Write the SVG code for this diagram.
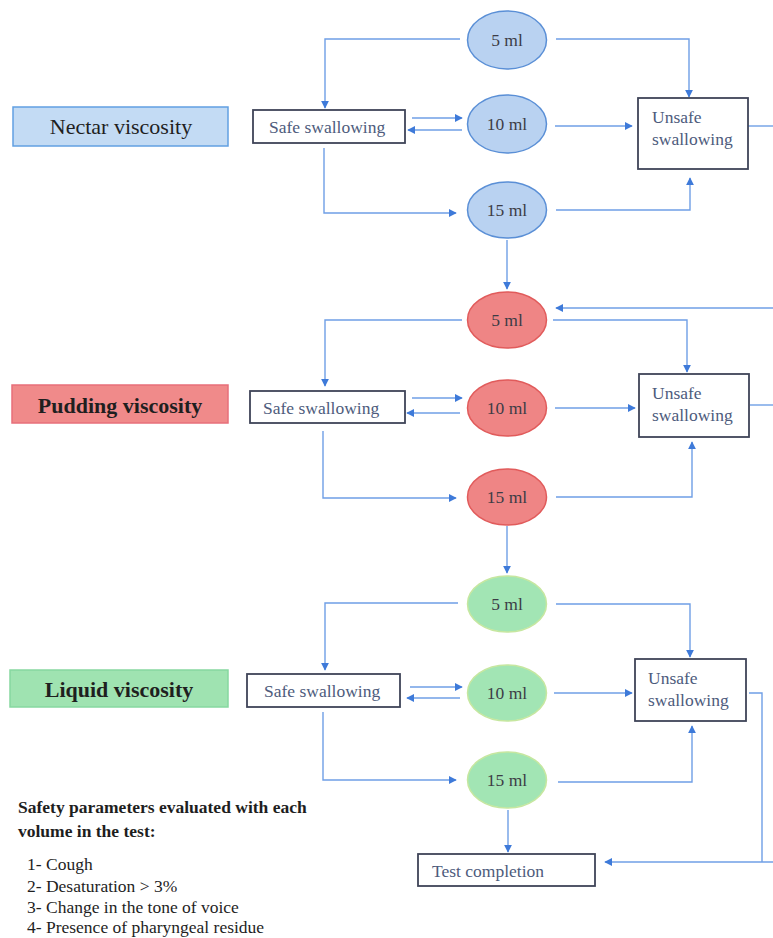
<svg xmlns="http://www.w3.org/2000/svg" width="773" height="938" viewBox="0 0 773 938">
<style>
.conn{fill:none;stroke:#6f9fe6;stroke-width:1.4}
.box{fill:#fff;stroke:#3f4458;stroke-width:1.8}
.t{font-family:"Liberation Serif","Times New Roman",serif}
.lbl{font-size:22px;fill:#1f1f1f;text-anchor:middle}
.safe{font-size:17.5px;fill:#4d5b7c}
.ml{font-size:17.5px;fill:#3c3c46;text-anchor:middle}
.e-blue{fill:#b9d2f1;stroke:#5a8fd6;stroke-width:1.5}
.e-red{fill:#ef8585;stroke:#e15b5b;stroke-width:1.5}
.e-green{fill:#a2e5b4;stroke:#c6e7a0;stroke-width:1.5}
.note{font-size:17.5px;fill:#1e1e1e}
</style>
<defs>
<marker id="ah" viewBox="0 0 10 10" refX="9" refY="5" markerWidth="8" markerHeight="8" markerUnits="userSpaceOnUse" orient="auto">
<path d="M0,0 L10,5 L0,10 z" fill="#3e7ad9"/>
</marker>
</defs>
<rect width="773" height="938" fill="#fff"/>

<g id="connectors">
<!-- Nectar -->
<path class="conn" d="M460,39 H325 V108" marker-end="url(#ah)"/>
<path class="conn" d="M556,39 H689 V97" marker-end="url(#ah)"/>
<path class="conn" d="M412,118 H462" marker-end="url(#ah)"/>
<path class="conn" d="M462,130 H408" marker-end="url(#ah)"/>
<path class="conn" d="M555,126 H632" marker-end="url(#ah)"/>
<path class="conn" d="M324,148 V213 H456" marker-end="url(#ah)"/>
<path class="conn" d="M556,210 H690 V178" marker-end="url(#ah)"/>
<path class="conn" d="M748,126 H773"/>
<path class="conn" d="M507,240 V289" marker-end="url(#ah)"/>
<!-- Pudding -->
<path class="conn" d="M773,308 H556" marker-end="url(#ah)"/>
<path class="conn" d="M462,320 H325 V386" marker-end="url(#ah)"/>
<path class="conn" d="M553,320 H687 V372" marker-end="url(#ah)"/>
<path class="conn" d="M412,398 H462" marker-end="url(#ah)"/>
<path class="conn" d="M460,413 H407" marker-end="url(#ah)"/>
<path class="conn" d="M555,408 H635" marker-end="url(#ah)"/>
<path class="conn" d="M323,431 V498 H456" marker-end="url(#ah)"/>
<path class="conn" d="M556,497 H692 V442" marker-end="url(#ah)"/>
<path class="conn" d="M750,405 H773"/>
<path class="conn" d="M507,526 V573" marker-end="url(#ah)"/>
<!-- Liquid -->
<path class="conn" d="M458,603 H325 V670" marker-end="url(#ah)"/>
<path class="conn" d="M556,604 H690 V657" marker-end="url(#ah)"/>
<path class="conn" d="M410,687 H462" marker-end="url(#ah)"/>
<path class="conn" d="M460,698 H407" marker-end="url(#ah)"/>
<path class="conn" d="M554,693 H632" marker-end="url(#ah)"/>
<path class="conn" d="M323,712 V780 H456" marker-end="url(#ah)"/>
<path class="conn" d="M558,782 H692 V726" marker-end="url(#ah)"/>
<path class="conn" d="M508,810 V852" marker-end="url(#ah)"/>
<path class="conn" d="M749,693 H762 V862"/>
<path class="conn" d="M773,862 H605" marker-end="url(#ah)"/>
</g>

<!-- Nectar row -->
<g id="nectar-label">
<rect x="13" y="107" width="215" height="39" fill="#c3dbf4" stroke="#62a0e2" stroke-width="1.5"/>
<text class="t lbl" x="121" y="134">Nectar viscosity</text>
</g>
<g id="nectar-safe">
<rect class="box" x="253" y="110" width="152" height="33"/>
<text class="t safe" x="269" y="133">Safe swallowing</text>
</g>
<g id="nectar-5">
<ellipse class="e-blue" cx="507" cy="40" rx="39.5" ry="29"/>
<text class="t ml" x="507" y="46">5 ml</text>
</g>
<g id="nectar-10">
<ellipse class="e-blue" cx="507" cy="124" rx="39.5" ry="29"/>
<text class="t ml" x="507" y="130">10 ml</text>
</g>
<g id="nectar-15">
<ellipse class="e-blue" cx="507" cy="210" rx="39.5" ry="28"/>
<text class="t ml" x="507" y="216">15 ml</text>
</g>
<g id="nectar-unsafe">
<rect class="box" x="638" y="98" width="110" height="71"/>
<text class="t safe" x="652" y="123">Unsafe</text>
<text class="t safe" x="652" y="145">swallowing</text>
</g>

<!-- Pudding row -->
<g id="pudding-label">
<rect x="12" y="385" width="216" height="38" fill="#f08a8a" stroke="#e76f7a" stroke-width="1.5"/>
<text class="t lbl" x="120" y="413" font-weight="bold" fill="#2a1a1a">Pudding viscosity</text>
</g>
<g id="pudding-safe">
<rect class="box" x="250" y="391" width="155" height="32"/>
<text class="t safe" x="263" y="414">Safe swallowing</text>
</g>
<g id="pudding-5">
<ellipse class="e-red" cx="507" cy="320" rx="39.5" ry="28"/>
<text class="t ml" x="507" y="326">5 ml</text>
</g>
<g id="pudding-10">
<ellipse class="e-red" cx="507" cy="408" rx="39.5" ry="28"/>
<text class="t ml" x="507" y="414">10 ml</text>
</g>
<g id="pudding-15">
<ellipse class="e-red" cx="507" cy="497" rx="39.5" ry="28"/>
<text class="t ml" x="507" y="503">15 ml</text>
</g>
<g id="pudding-unsafe">
<rect class="box" x="639" y="374" width="110" height="63"/>
<text class="t safe" x="652" y="399">Unsafe</text>
<text class="t safe" x="652" y="421">swallowing</text>
</g>

<!-- Liquid row -->
<g id="liquid-label">
<rect x="10" y="670" width="218" height="37" fill="#9fe3b1" stroke="#86d8a0" stroke-width="1.5"/>
<text class="t lbl" x="119" y="697" font-weight="bold" fill="#1f2a1f">Liquid viscosity</text>
</g>
<g id="liquid-safe">
<rect class="box" x="247" y="674" width="153" height="33"/>
<text class="t safe" x="264" y="697" fill="#3a3f50">Safe swallowing</text>
</g>
<g id="liquid-5">
<ellipse class="e-green" cx="507" cy="604" rx="39.5" ry="28"/>
<text class="t ml" x="507" y="610">5 ml</text>
</g>
<g id="liquid-10">
<ellipse class="e-green" cx="507" cy="693" rx="39.5" ry="28"/>
<text class="t ml" x="507" y="699">10 ml</text>
</g>
<g id="liquid-15">
<ellipse class="e-green" cx="507" cy="780" rx="39.5" ry="28"/>
<text class="t ml" x="507" y="786">15 ml</text>
</g>
<g id="liquid-unsafe">
<rect class="box" x="635" y="659" width="111" height="62"/>
<text class="t safe" x="648" y="684">Unsafe</text>
<text class="t safe" x="648" y="706">swallowing</text>
</g>

<g id="test-completion">
<rect class="box" x="418" y="854" width="177" height="32"/>
<text class="t safe" x="432" y="877" font-size="19">Test completion</text>
</g>

<g id="notes">
<text class="t note" x="18" y="813" font-weight="bold">Safety parameters evaluated with each</text>
<text class="t note" x="18" y="837" font-weight="bold">volume in the test:</text>
<text class="t note" x="27" y="870" fill="#333">1- Cough</text>
<text class="t note" x="27" y="892" fill="#333">2- Desaturation &gt; 3%</text>
<text class="t note" x="27" y="913" fill="#333">3- Change in the tone of voice</text>
<text class="t note" x="27" y="933" fill="#333">4- Presence of pharyngeal residue</text>
</g>
</svg>
